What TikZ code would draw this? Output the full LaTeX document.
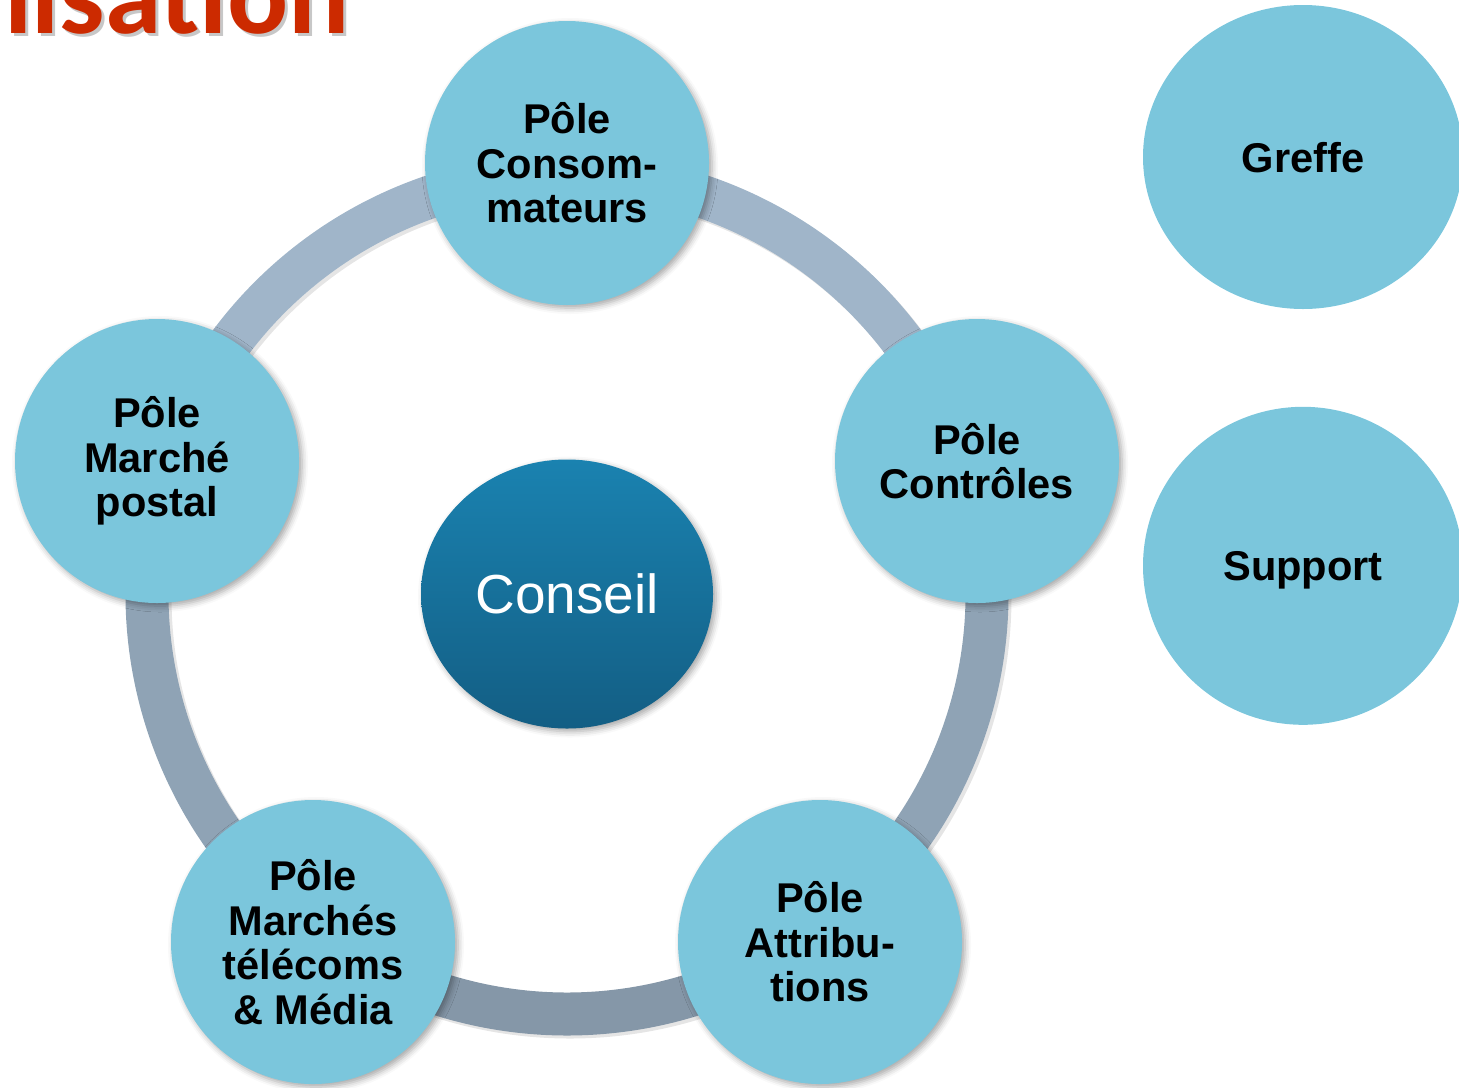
\documentclass[tikz,border=0pt]{standalone}
\usepackage{fontspec}
\setmainfont{Liberation Sans}
\newfontfamily\titlefont{Carlito}
\usetikzlibrary{shapes.geometric,shadows.blur,positioning,backgrounds}

\definecolor{poleblue}{HTML}{7BC6DC}
\definecolor{ringlight}{HTML}{A0B5C9}
\definecolor{ringmid}{HTML}{8FA3B5}
\definecolor{ringdark}{HTML}{8597A8}
\definecolor{conseiltop}{HTML}{1A82B0}
\definecolor{conseilbot}{HTML}{135E84}
\definecolor{titlered}{HTML}{CC2A00}

\begin{document}
\begin{tikzpicture}[x=0.5pt,y=-0.5pt]
		\tikzstyle{main}=[circle, minimum size = 142pt, inner sep = 0pt, fill = poleblue, align = center,
			font = \fontsize{20.8pt}{22.3pt}\selectfont\bfseries,
			blur shadow = {shadow xshift = 1.5pt, shadow yshift = -1.5pt, shadow blur radius = 3pt, shadow opacity = 35}]
		\tikzstyle{side}=[ellipse, inner sep = 0pt, fill = poleblue, text depth = 0pt,
			font = \fontsize{20.8pt}{22.3pt}\selectfont\bfseries]
		\tikzstyle{connect}=[line width = 21.5pt]
		\tikzstyle{heading}=[anchor = base west, inner sep = 0pt, font = \titlefont\fontsize{57pt}{60pt}\selectfont\bfseries]
		\useasboundingbox (0,0) rectangle (1459,1087);
		\clip (0,0) rectangle (1459,1087);
		
		% title, cut off by the frame
		\node[heading, text = black, opacity = 0.22] (titleshadow) at (-27,36) {nisation};
		\node[heading, text = titlered]              (title)       at (-30,33) {nisation};
		
		\node[ellipse, minimum width = 146pt, minimum height = 134.5pt, inner sep = 0pt,
			top color = conseiltop, bottom color = conseilbot, text = white,
			font = \fontsize{27.5pt}{30pt}\selectfont,
			blur shadow = {shadow xshift = 1.5pt, shadow yshift = -1.5pt, shadow blur radius = 3pt, shadow opacity = 35}]
			(conseil) at (567,594) {Conseil};
		
		\node[main] (cons) at (567,163) {Pôle\\Consom-\\mateurs};
		\node[main] (ctrl) at (977,461) {Pôle\\Contrôles};
		\node[main] (attr) at (820,942) {Pôle\\Attribu-\\tions};
		\node[main] (tele) at (313,942) {Pôle\\Marchés\\télécoms\\\& Média};
		\node[main] (post) at (157,461) {Pôle\\Marché\\postal};
		
		\node[side, minimum width = 160pt, minimum height = 152pt] (greffe) at (1303,157) {Greffe};
		\node[side, minimum width = 160pt, minimum height = 159pt] (support) [below=48.5pt of greffe] {Support};
		
		% ring behind the poles
		\begin{scope}[on background layer]
		\draw[connect, black, opacity = 0.1, transform canvas = {shift = {(1.5pt,-1.5pt)}}]
			(conseil.center) circle[radius = 420];
		\draw[connect, ringlight] (conseil.center) ++(270:420) arc[start angle = 270, end angle = 342, radius = 420];
		\draw[connect, ringmid]   (conseil.center) ++(342:420) arc[start angle = 342, end angle = 414, radius = 420];
		\draw[connect, ringdark]  (conseil.center) ++(54:420)  arc[start angle = 54,  end angle = 126, radius = 420];
		\draw[connect, ringmid]   (conseil.center) ++(126:420) arc[start angle = 126, end angle = 198, radius = 420];
		\draw[connect, ringlight] (conseil.center) ++(198:420) arc[start angle = 198, end angle = 270, radius = 420];
		\end{scope}
		
\end{tikzpicture}
\end{document}
